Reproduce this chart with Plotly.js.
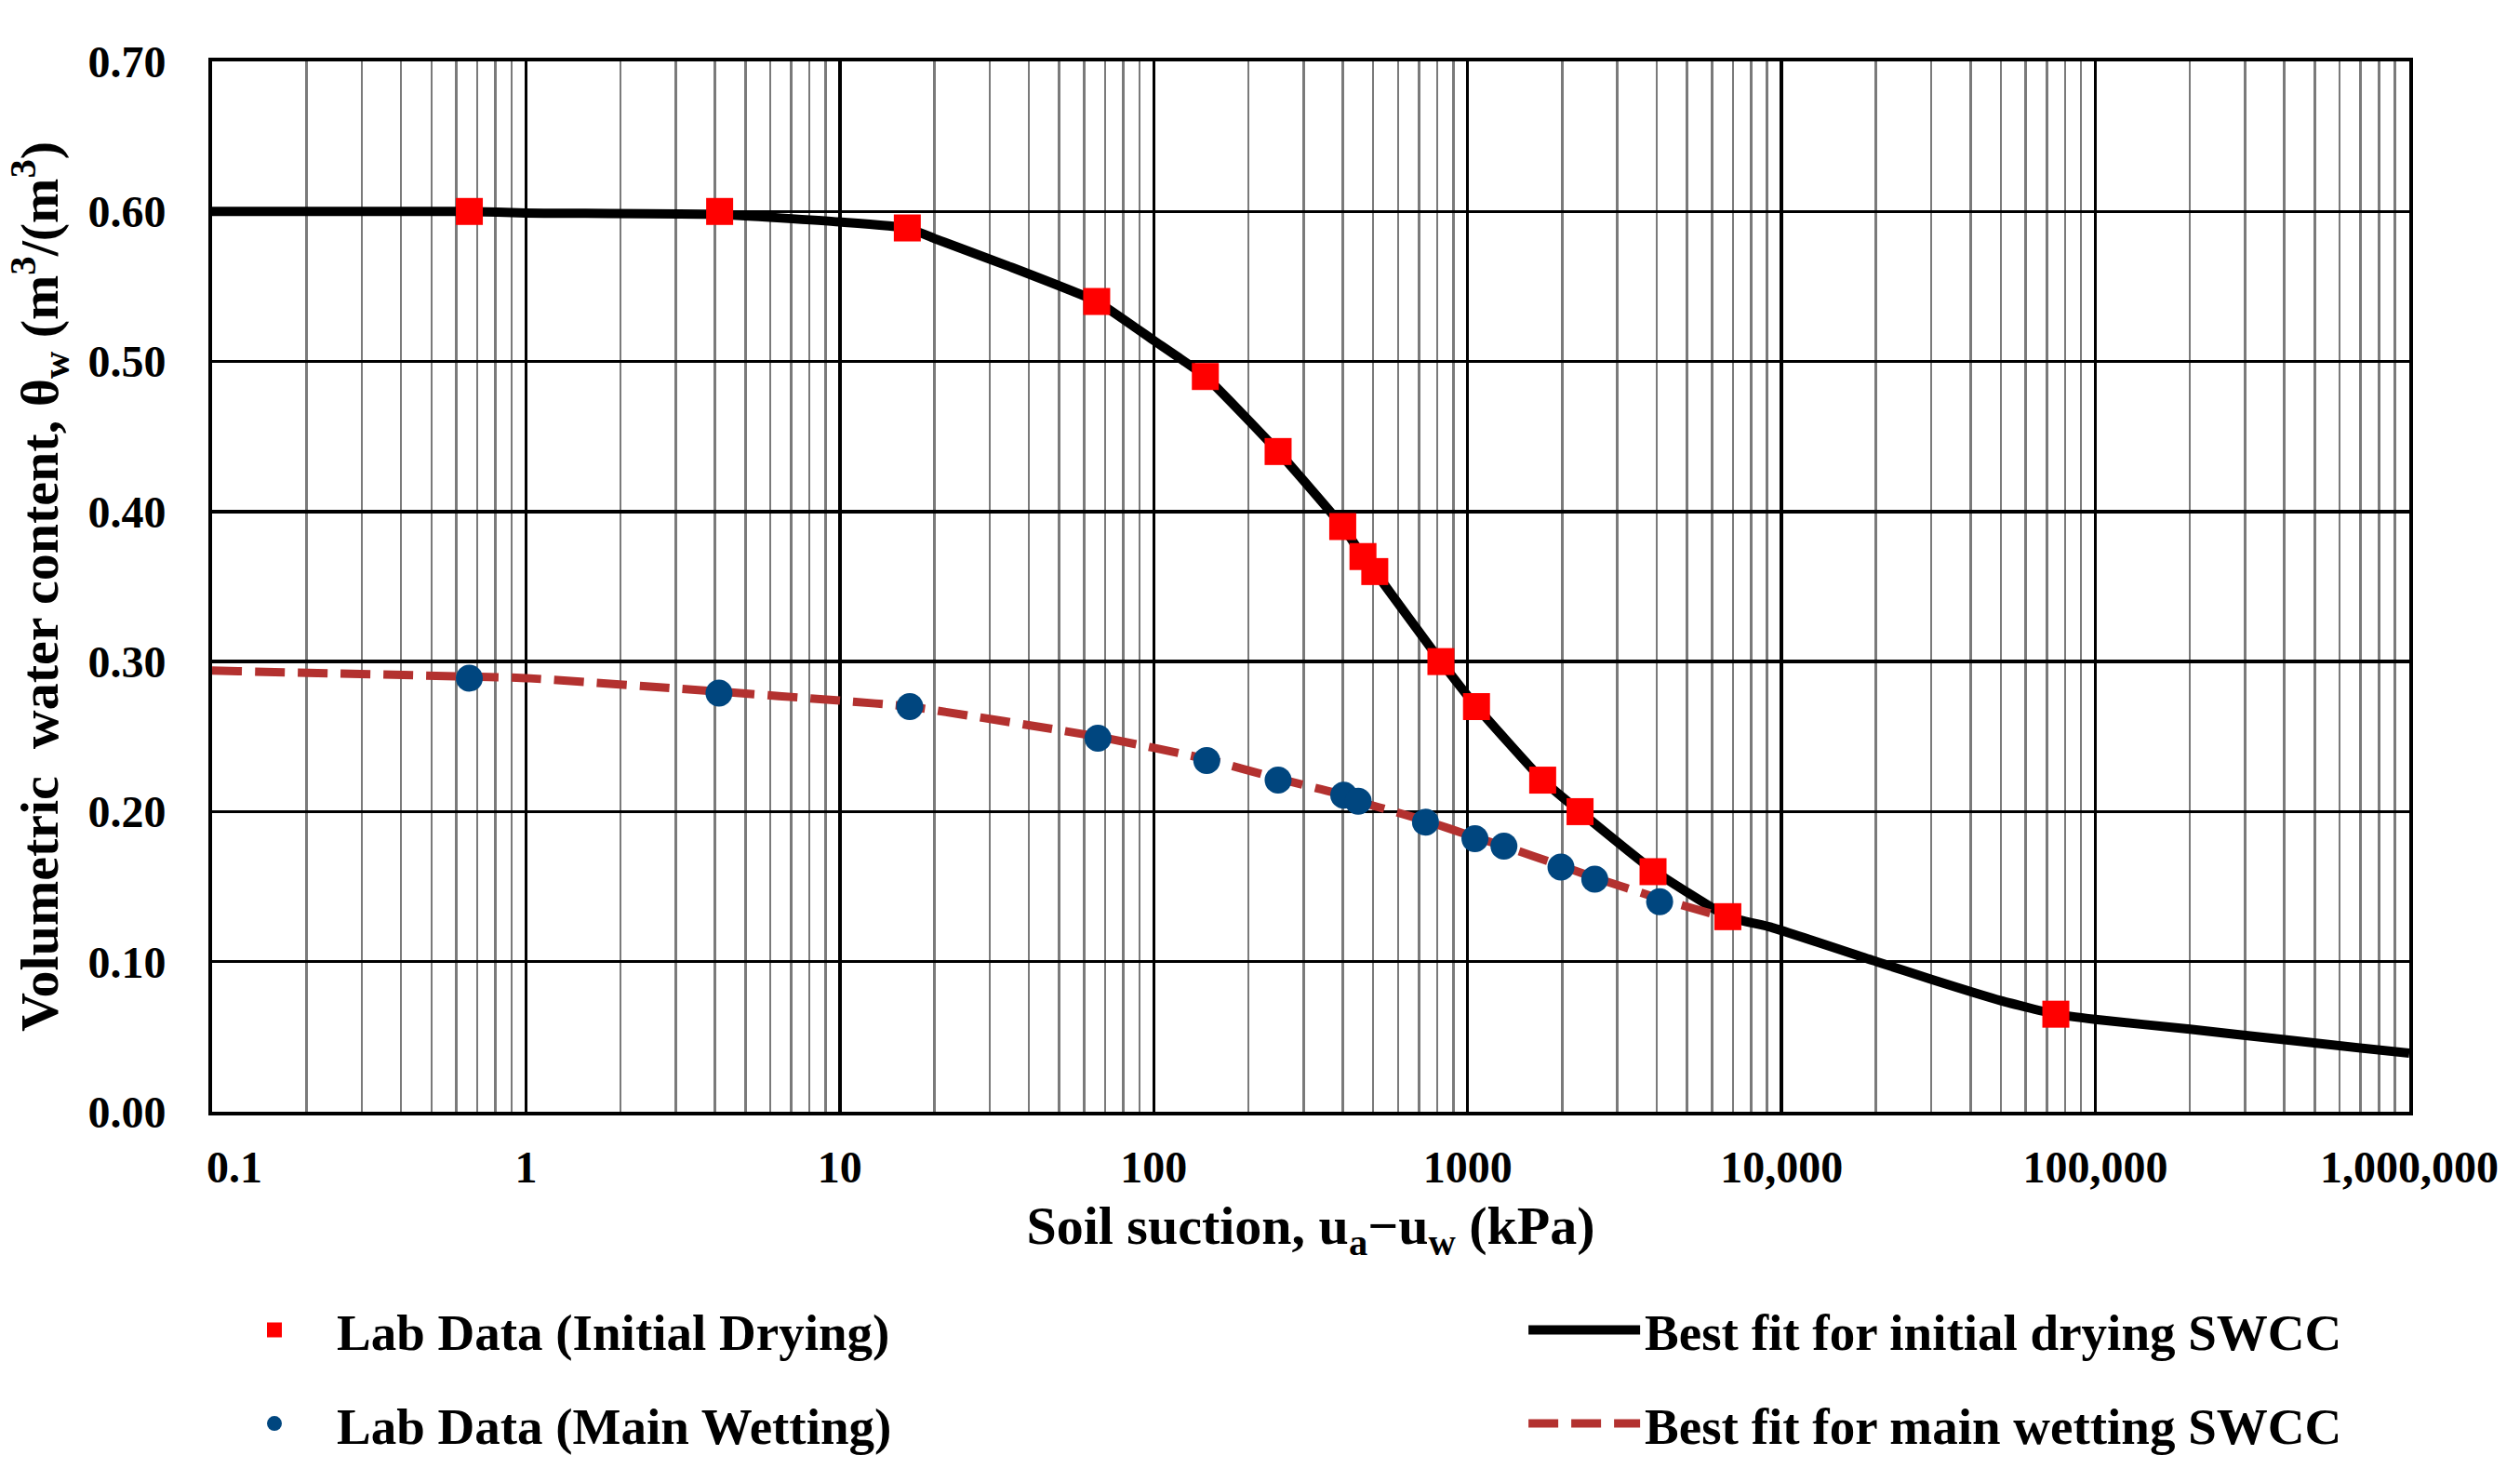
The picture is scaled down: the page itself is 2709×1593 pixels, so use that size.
<!DOCTYPE html>
<html>
<head>
<meta charset="utf-8">
<script src="https://cdn.plot.ly/plotly-3.0.1.min.js"></script>
<style>
  html, body { margin: 0; padding: 0; background: #ffffff; }
  #chart { width: 2709px; height: 1593px; }
</style>
</head>
<body>
<div id="chart"></div>
<script>
// ---- Data ----
const dryingSuction = [0.66, 4.14, 16.4, 65.8, 146, 249, 400, 464, 506, 822, 1067, 1734, 2281, 3896, 6745, 74800];
const dryingTheta   = [0.600, 0.600, 0.589, 0.540, 0.490, 0.440, 0.390, 0.370, 0.360, 0.300, 0.270, 0.221, 0.200, 0.160, 0.130, 0.065];

const wettingSuction = [0.66, 4.12, 16.7, 66.4, 147.5, 249, 403, 448, 734, 1055, 1305, 1983, 2541, 4090];
const wettingTheta   = [0.289, 0.279, 0.270, 0.249, 0.234, 0.221, 0.211, 0.207, 0.193, 0.182, 0.177, 0.163, 0.155, 0.140];

const fitDryingSuction = [0.1, 0.66, 1, 4.14, 10, 16.4, 20, 34, 65.8, 100, 146, 249, 400, 464, 506, 822, 1067, 1734, 2281, 3896, 6745, 9250, 20100, 30200, 50000, 74800, 100000, 200000, 400000, 1000000];
const fitDryingTheta   = [0.600, 0.600, 0.599, 0.598, 0.593, 0.589, 0.582, 0.564, 0.540, 0.514, 0.490, 0.440, 0.390, 0.370, 0.360, 0.300, 0.270, 0.221, 0.200, 0.161, 0.130, 0.123, 0.100, 0.088, 0.074, 0.065, 0.0615, 0.055, 0.048, 0.039];

const fitWettingSuction = [0.1, 0.66, 1, 4.12, 10, 16.7, 66.4, 147.5, 249, 403, 448, 734, 1055, 1305, 1983, 2541, 4090, 5760, 6745];
const fitWettingTheta   = [0.294, 0.290, 0.289, 0.280, 0.274, 0.270, 0.250, 0.235, 0.222, 0.211, 0.207, 0.194, 0.183, 0.177, 0.164, 0.156, 0.142, 0.133, 0.129];

const xTickValues = [0.1, 1, 10, 100, 1000, 10000, 100000, 1000000];
const xTickLabels = ["\u20030.1", "1", "10", "100", "1000", "10,000", "100,000", "1,000,000"];

const seriesNames = [
  "Lab Data (Initial Drying)",
  "Best fit for initial drying SWCC",
  "Lab Data (Main Wetting)",
  "Best fit for main wetting SWCC"
];

// minor grid positions (2..9 within each decade)
const minorVals = [];
for (let d = -1; d < 6; d++) {
  for (let m = 2; m <= 9; m++) minorVals.push(m * Math.pow(10, d));
}

const FONT = "Liberation Serif, Times New Roman, serif";

const traces = [
  {
    x: fitDryingSuction, y: fitDryingTheta, type: "scatter", mode: "lines",
    name: seriesNames[1], legend: "legend2",
    line: { color: "#000000", width: 10, shape: "spline", smoothing: 0.4 }
  },
  {
    x: fitWettingSuction, y: fitWettingTheta, type: "scatter", mode: "lines",
    name: seriesNames[3], legend: "legend4",
    line: { color: "#B3312F", width: 9, dash: "32px,14px", shape: "spline", smoothing: 0.4 }
  },
  {
    x: dryingSuction, y: dryingTheta, type: "scatter", mode: "markers",
    name: seriesNames[0], legend: "legend",
    marker: { symbol: "square", color: "#FF0000", size: 29 }
  },
  {
    x: wettingSuction, y: wettingTheta, type: "scatter", mode: "markers",
    name: seriesNames[2], legend: "legend3",
    marker: { symbol: "circle", color: "#00467F", size: 29 }
  }
];

function legendAt(xp, yp, w) {
  return {
    x: xp, y: yp, xanchor: "left", yanchor: "middle",
    orientation: "v", bgcolor: "rgba(0,0,0,0)", borderwidth: 0,
    font: { family: FONT, size: 55, weight: "bold", color: "#000000" },
    itemwidth: w
  };
}

const layout = {
  width: 2709, height: 1593,
  margin: { l: 228, r: 119, t: 66, b: 398 },
  paper_bgcolor: "#ffffff", plot_bgcolor: "#ffffff",
  showlegend: true,
  xaxis: {
    type: "log", range: [-1, 6],
    tickmode: "array", tickvals: xTickValues, ticktext: xTickLabels,
    showgrid: true, gridcolor: "#000000", gridwidth: 3.5,
    minor: { tickmode: "array", tickvals: minorVals, showgrid: true, gridcolor: "#7a7a7a", gridwidth: 2.5, ticks: "" },
    showline: true, mirror: true, linecolor: "#000000", linewidth: 4,
    ticks: "", ticklabelstandoff: 14,
    tickfont: { family: FONT, size: 48, weight: "bold", color: "#000000" },
    zeroline: false,
    title: {
      text: "Soil suction, u<sub>a</sub>\u2212u<sub>w</sub> (kPa)",
      font: { family: FONT, size: 58, weight: "bold", color: "#000000" },
      standoff: 18
    }
  },
  yaxis: {
    range: [0, 0.7], tickmode: "linear", tick0: 0, dtick: 0.1, tickformat: ".2f",
    showgrid: true, gridcolor: "#000000", gridwidth: 3.5,
    showline: true, mirror: true, linecolor: "#000000", linewidth: 4,
    ticks: "", ticklabelstandoff: 36,
    tickfont: { family: FONT, size: 48, weight: "bold", color: "#000000" },
    zeroline: false,
    title: {
      text: "Volumetric  water content, \u03B8<sub>w</sub> (m<sup>3</sup>/(m<sup>3</sup>)",
      font: { family: FONT, size: 58, weight: "bold", color: "#000000" },
      standoff: 14
    }
  },
  legend:  legendAt(0.000, -0.208, 124),
  legend2: legendAt(0.597, -0.208, 120),
  legend3: legendAt(0.000, -0.297, 124),
  legend4: legendAt(0.597, -0.297, 120)
};

Plotly.newPlot("chart", traces, layout, { displayModeBar: false, staticPlot: true });
</script>
</body>
</html>
